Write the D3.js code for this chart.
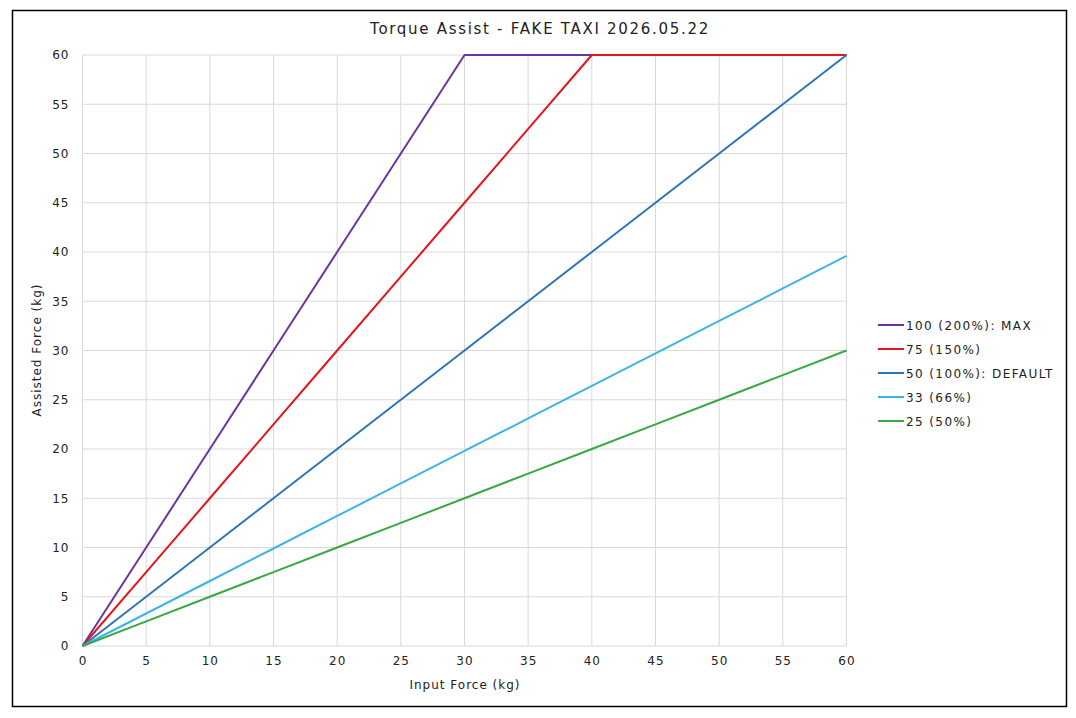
<!DOCTYPE html>
<html><head><meta charset="utf-8">
<script src="https://cdn.jsdelivr.net/npm/d3@7"></script>
<style>body{margin:0;background:#fff;} text{font-family:"DejaVu Sans",sans-serif;fill:#222;}</style>
</head><body>
<svg id="c" width="1076" height="718"></svg>
<script>
const xValues = [0,5,10,15,20,25,30,35,40,45,50,55,60];
const seriesNames = ["100 (200%): MAX","75 (150%)","50 (100%): DEFAULT","33 (66%)","25 (50%)"];
const s100 = [0,10,20,30,40,50,60,60,60,60,60,60,60];
const s75  = [0,7.5,15,22.5,30,37.5,45,52.5,60,60,60,60,60];
const s50  = [0,5,10,15,20,25,30,35,40,45,50,55,60];
const s33  = [0,3.3,6.6,9.9,13.2,16.5,19.8,23.1,26.4,29.7,33,36.3,39.6];
const s25  = [0,2.5,5,7.5,10,12.5,15,17.5,20,22.5,25,27.5,30];
const seriesValues = [s100,s75,s50,s33,s25];
const colors = ["#6a35a0","#e8141c","#2e75b6","#3db4e3","#38a845"];
const tickValues = [0,5,10,15,20,25,30,35,40,45,50,55,60];

const svg = d3.select("#c");
svg.append("rect").attr("x",12.5).attr("y",10.5).attr("width",1054).attr("height",696)
  .attr("fill","#fff").attr("stroke","#000").attr("stroke-width",1.5);

const L=82.5,R=846.5,T=55,B=646;
const x=d3.scaleLinear().domain([0,60]).range([L,R]);
const y=d3.scaleLinear().domain([0,60]).range([B,T]);

const g=svg.append("g");
g.selectAll("line.v").data(tickValues).join("line")
  .attr("x1",d=>x(d)).attr("x2",d=>x(d)).attr("y1",T).attr("y2",B)
  .attr("stroke","#d9d9d9").attr("stroke-width",1);
g.selectAll("line.h").data(tickValues).join("line")
  .attr("y1",d=>y(d)).attr("y2",d=>y(d)).attr("x1",L).attr("x2",R)
  .attr("stroke","#d9d9d9").attr("stroke-width",1);

const xa=svg.append("g").attr("transform",`translate(0,${B})`)
  .call(d3.axisBottom(x).tickValues(tickValues).tickSize(0).tickPadding(10));
xa.select(".domain").remove();
xa.selectAll("text").attr("font-size",12).attr("letter-spacing",1).style("font-family","DejaVu Sans").attr("fill","#222");
const ya=svg.append("g").attr("transform",`translate(${L},0)`)
  .call(d3.axisLeft(y).tickValues(tickValues).tickSize(0).tickPadding(13));
ya.select(".domain").remove();
ya.selectAll("text").attr("font-size",12).attr("letter-spacing",1).style("font-family","DejaVu Sans").attr("fill","#222");

const line=d3.line().x((d,i)=>x(xValues[i])).y(d=>y(d));
seriesValues.forEach((s,k)=>{
  svg.append("path").datum(s).attr("d",line).attr("fill","none")
    .attr("stroke",colors[k]).attr("stroke-width",2).attr("stroke-linejoin","round");
});

svg.append("text").attr("x",540).attr("y",34).attr("text-anchor","middle")
  .attr("font-size",15).attr("letter-spacing",1.7).text("Torque Assist - FAKE TAXI 2026.05.22");
svg.append("text").attr("x",465).attr("y",689).attr("text-anchor","middle")
  .attr("font-size",12).attr("letter-spacing",1).text("Input Force (kg)");
svg.append("text").attr("transform","translate(41,350) rotate(-90)").attr("text-anchor","middle")
  .attr("font-size",12).attr("letter-spacing",1).text("Assisted Force (kg)");

const lg=svg.append("g");
seriesNames.forEach((n,k)=>{
  const yy=325+k*24;
  lg.append("line").attr("x1",878).attr("x2",904).attr("y1",yy).attr("y2",yy)
    .attr("stroke",colors[k]).attr("stroke-width",2);
  lg.append("text").attr("x",906).attr("y",yy+4.5).attr("font-size",12).attr("letter-spacing",1.4).text(n);
});
</script>
</body></html>
